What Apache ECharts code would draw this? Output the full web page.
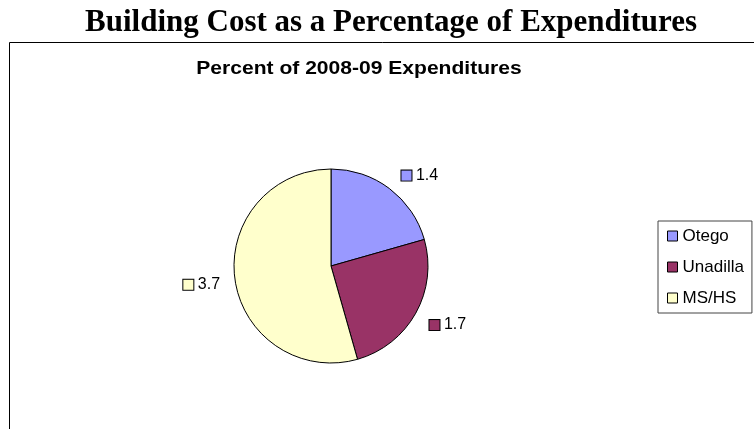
<!DOCTYPE html>
<html>
<head>
<meta charset="utf-8">
<script src="https://cdn.jsdelivr.net/npm/echarts@6/dist/echarts.min.js"></script>
<style>
  html, body { margin: 0; padding: 0; background: #fff; }
  #chart { width: 754px; height: 429px; }
</style>
</head>
<body>
<div id="chart"></div>
<script>
// Building cost, percent of 2008-09 expenditures, by building
const buildings = ['Otego', 'Unadilla', 'MS/HS'];
const costPercent = [1.4, 1.7, 3.7];
const sliceColors = ['#9999FF', '#993366', '#FFFFCC'];

const mainTitle = 'Building Cost as a Percentage of Expenditures';
const subTitle = 'Percent of 2008-09 Expenditures';

// small per-slice label nudges [dx, dy]
const labelNudge = [[-4, -5], [-5, 7], [5, 4]];

const chart = echarts.init(document.getElementById('chart'), null, { renderer: 'canvas' });

const pieData = buildings.map((name, i) => ({
  name: name,
  value: costPercent[i],
  itemStyle: { color: sliceColors[i] },
  label: {
    offset: labelNudge[i],
    formatter: '{k' + i + '|}{v| {c}}'
  }
}));

const keyRich = {};
sliceColors.forEach((c, i) => {
  keyRich['k' + i] = {
    width: 10, height: 10,
    backgroundColor: c,
    borderColor: '#000', borderWidth: 1
  };
});
keyRich.v = { fontFamily: 'Liberation Sans', fontSize: 16, color: '#000' };

chart.setOption({
  backgroundColor: '#fff',
  animation: false,
  graphic: [
    {
      type: 'text', silent: true,
      x: 391, y: 22.5,
      style: {
        text: mainTitle, fill: '#000',
        font: 'bold 31px "Liberation Serif"',
        align: 'center', verticalAlign: 'middle'
      }
    },
    {
      type: 'text', silent: true,
      x: 359, y: 68.8, scaleX: 1.17, originX: 0,
      style: {
        text: subTitle, fill: '#000',
        font: 'bold 18px "Liberation Sans"',
        align: 'center', verticalAlign: 'middle'
      }
    },
    {
      type: 'rect', z: -1, silent: true,
      shape: { x: 9.5, y: 42.5, width: 800, height: 500 },
      style: { fill: 'none', stroke: '#000', lineWidth: 1 }
    }
  ],
  legend: {
    data: buildings,
    orient: 'vertical',
    left: 658, top: 221,
    padding: [5, 8, 5, 9],
    itemGap: 11,
    itemWidth: 10, itemHeight: 10,
    icon: 'rect',
    itemStyle: { borderColor: '#000', borderWidth: 1 },
    borderColor: '#444', borderWidth: 1,
    textStyle: { fontFamily: 'Liberation Sans', fontSize: 17, lineHeight: 20, color: '#000' }
  },
  series: [{
    type: 'pie',
    center: [331, 266],
    radius: 97,
    startAngle: 90,
    clockwise: true,
    avoidLabelOverlap: false,
    itemStyle: { borderColor: '#000', borderWidth: 1 },
    emphasis: { disabled: true },
    label: {
      show: true,
      position: 'outside',
      rich: keyRich
    },
    labelLine: { show: false, length: 10, length2: 5 },
    data: pieData
  }]
});
</script>
</body>
</html>
